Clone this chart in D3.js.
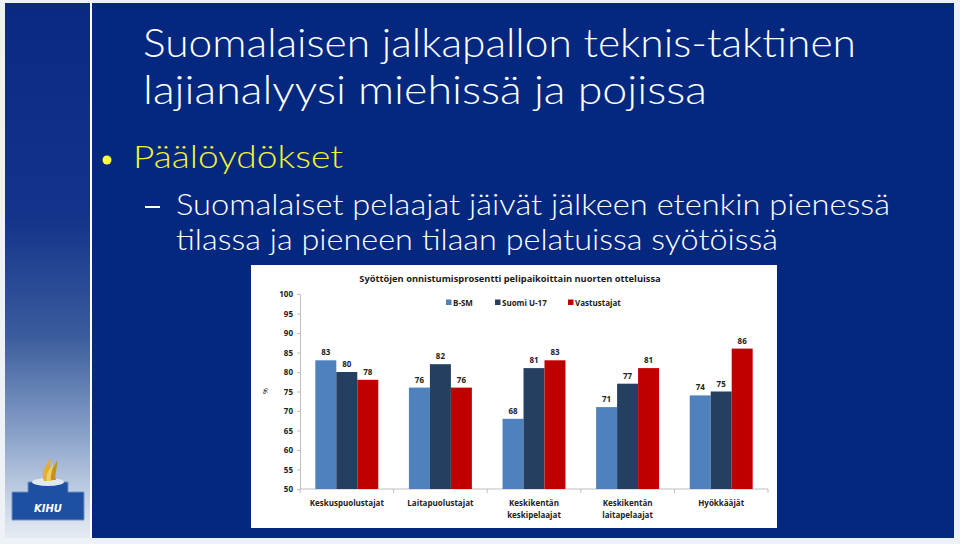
<!DOCTYPE html>
<html><head><meta charset="utf-8">
<script src="https://cdn.jsdelivr.net/npm/d3@7"></script>
<style>
html,body{margin:0;padding:0;background:#eef1f6;}
svg{display:block;}
</style></head>
<body>
<svg id="slide" width="960" height="544"></svg>
<script>
// ---- data ----
const categories = ["Keskuspuolustajat", "Laitapuolustajat", "Keskikentän\nkeskipelaajat", "Keskikentän\nlaitapelaajat", "Hyökkääjät"];
const seriesNames = ["B-SM", "Suomi U-17", "Vastustajat"];
const bsm = [83, 76, 68, 71, 74];
const suomiU17 = [80, 82, 81, 77, 75];
const vastustajat = [78, 76, 83, 81, 86];
const yTicks = [50, 55, 60, 65, 70, 75, 80, 85, 90, 95, 100];
const seriesColors = ["#4f81bd", "#243f60", "#c00000"];
const chartTitle = "Syöttöjen onnistumisprosentti pelipaikoittain nuorten  otteluissa";
const slideTitle = ["Suomalaisen jalkapallon teknis-taktinen", "lajianalyysi miehissä ja pojissa"];
const bulletText = "Päälöydökset";
const subText = ["Suomalaiset pelaajat jäivät jälkeen etenkin pienessä", "tilassa ja pieneen tilaan pelatuissa syötöissä"];

const seriesValues = [bsm, suomiU17, vastustajat];

const svg = d3.select("#slide");
const defs = svg.append("defs");
const lg = defs.append("linearGradient").attr("id","leftGrad").attr("x1",0).attr("y1",0).attr("x2",0).attr("y2",1);
[[0,"#0a2a82"],[0.4,"#12348a"],[0.62,"#3a5b9c"],[0.8,"#869fc7"],[0.92,"#c3d0e4"],[1,"#e6ebf3"]].forEach(([o,c])=>lg.append("stop").attr("offset",o).attr("stop-color",c));

// background frame
svg.append("rect").attr("x",0).attr("y",0).attr("width",960).attr("height",544).attr("fill","#eef1f6");
svg.append("rect").attr("x",5).attr("y",3).attr("width",85).attr("height",535).attr("fill","url(#leftGrad)");
svg.append("rect").attr("x",90).attr("y",3).attr("width",2).attr("height",535).attr("fill","#ffffff");
svg.append("rect").attr("x",92).attr("y",3).attr("width",862).attr("height",535).attr("fill","#04287f");

// logo (KIHU)
const logo = svg.append("g");
logo.append("path").attr("d","M12,492 L28,492 L28,482 L68,482 L68,492 L84,492 L84,520 L12,520 Z").attr("fill","#1f4fa0").attr("stroke","#6f93c8").attr("stroke-width",1);
logo.append("ellipse").attr("cx",48).attr("cy",482).attr("rx",16).attr("ry",4).attr("fill","#dfe7f3");
logo.append("path").attr("d","M44,481 C40,472 46,466 50,458 C52,466 47,472 52,481 Z").attr("fill","#e0b030");
logo.append("path").attr("d","M50,480 C48,472 54,468 57,460 C58,468 54,474 56,480 Z").attr("fill","#c89020");
logo.append("path").attr("d","M47,481 C45,474 50,469 53,464 C53,470 50,475 51,481 Z").attr("fill","#f0d060");
logo.append("text").attr("x",48).attr("y",512).attr("text-anchor","middle").attr("font-family","DejaVu Sans, sans-serif").attr("font-style","italic").attr("font-weight","bold").attr("font-size",10).attr("fill","#ffffff").text("KIHU");

// slide texts
const fontMain = "Lato, 'Open Sans', sans-serif";
function fitText(sel, w){ sel.attr("textLength", w).attr("lengthAdjust","spacingAndGlyphs"); }
const t1 = svg.append("text").attr("x",143).attr("y",57).attr("font-family",fontMain).attr("font-weight",300).attr("font-size",40).attr("fill","#ffffff").text(slideTitle[0]); fitText(t1, 713);
const t2 = svg.append("text").attr("x",143).attr("y",104).attr("font-family",fontMain).attr("font-weight",300).attr("font-size",40).attr("fill","#ffffff").text(slideTitle[1]); fitText(t2, 564);
svg.append("circle").attr("cx",107).attr("cy",160).attr("r",4.5).attr("fill","#ffff33");
const b1 = svg.append("text").attr("x",133).attr("y",168).attr("font-family",fontMain).attr("font-weight",300).attr("font-size",32).attr("fill","#f4f42c").text(bulletText); fitText(b1, 210);
svg.append("rect").attr("x",145).attr("y",206).attr("width",15).attr("height",2).attr("fill","#ffffff");
const s1 = svg.append("text").attr("x",176).attr("y",215).attr("font-family",fontMain).attr("font-weight",300).attr("font-size",30).attr("fill","#ffffff").text(subText[0]); fitText(s1, 714);
const s2 = svg.append("text").attr("x",176).attr("y",250).attr("font-family",fontMain).attr("font-weight",300).attr("font-size",30).attr("fill","#ffffff").text(subText[1]); fitText(s2, 602);

// chart box
svg.append("rect").attr("x",251).attr("y",265).attr("width",526).attr("height",263).attr("fill","#ffffff");

const chartFont = "'Open Sans', 'Liberation Sans', sans-serif";
svg.append("text").attr("x",510).attr("y",282).attr("text-anchor","middle").attr("font-family",chartFont).attr("font-weight","bold").attr("font-size",9.3).attr("fill","#1a1a1a").text(chartTitle);

// scales
const y = d3.scaleLinear().domain([50,100]).range([489,294]);
const x0 = d3.scaleBand().domain(categories).range([300,768]).paddingInner(0).paddingOuter(0);
const x1 = d3.scaleBand().domain(seriesNames).range([0, x0.bandwidth()]).paddingInner(0).paddingOuter(0.73);
const color = d3.scaleOrdinal().domain(seriesNames).range(seriesColors);

// y axis
const yAxis = d3.axisLeft(y).tickValues(yTicks).tickSize(3).tickPadding(4);
const gy = svg.append("g").attr("transform","translate(300,0)").call(yAxis);
gy.select(".domain").attr("stroke","#bfbfbf");
gy.selectAll(".tick line").attr("stroke","#bfbfbf");
gy.selectAll(".tick text").attr("font-family",chartFont).attr("font-weight","bold").attr("font-size",8).attr("fill","#222");

// x axis
const gx = svg.append("g").attr("transform","translate(0,489)");
gx.append("line").attr("x1",300).attr("x2",768).attr("y1",0).attr("y2",0).attr("stroke","#bfbfbf");
const bounds = categories.map(c=>x0(c)).concat([x0(categories[categories.length-1])+x0.bandwidth()]);
gx.selectAll("line.tk").data(bounds).enter().append("line").attr("class","tk")
  .attr("x1",d=>d).attr("x2",d=>d).attr("y1",0).attr("y2",4).attr("stroke","#bfbfbf");
gx.selectAll("text.cat").data(categories).enter().append("text").attr("class","cat")
  .attr("x",d=>x0(d)+x0.bandwidth()/2).attr("y",17).attr("text-anchor","middle")
  .attr("font-family",chartFont).attr("font-weight","bold").attr("font-size",8).attr("fill","#222")
  .each(function(d){
    const lines = d.split("\n");
    const t = d3.select(this);
    lines.forEach((ln,i)=>{
      t.append("tspan").attr("x",x0(d)+x0.bandwidth()/2).attr("dy", i===0?0:12).text(ln);
    });
  });

// y label
svg.append("text").attr("transform","translate(268,391) rotate(-90)").attr("text-anchor","middle")
  .attr("font-family",chartFont).attr("font-size",7).attr("fill","#222").text("%");

// bars
const groups = svg.append("g").selectAll("g").data(categories).enter().append("g")
  .attr("transform",d=>`translate(${x0(d)},0)`);
groups.each(function(cat,ci){
  const g = d3.select(this);
  seriesNames.forEach((s,si)=>{
    const v = seriesValues[si][ci];
    g.append("rect").attr("x",x1(s)).attr("y",y(v)).attr("width",x1.bandwidth()).attr("height",y(50)-y(v)).attr("fill",color(s));
    g.append("text").attr("x",x1(s)+x1.bandwidth()/2).attr("y",y(v)-5).attr("text-anchor","middle")
      .attr("font-family",chartFont).attr("font-weight","bold").attr("font-size",8).attr("fill","#222").text(v);
  });
});

// legend
const legendX = [446, 495, 568];
const lgG = svg.append("g");
seriesNames.forEach((s,i)=>{
  lgG.append("rect").attr("x",legendX[i]).attr("y",299.5).attr("width",5.5).attr("height",5.5).attr("fill",color(s));
  lgG.append("text").attr("x",legendX[i]+7).attr("y",305.5).attr("font-family",chartFont).attr("font-weight","bold").attr("font-size",8).attr("fill","#222").text(s);
});
</script>
</body></html>
